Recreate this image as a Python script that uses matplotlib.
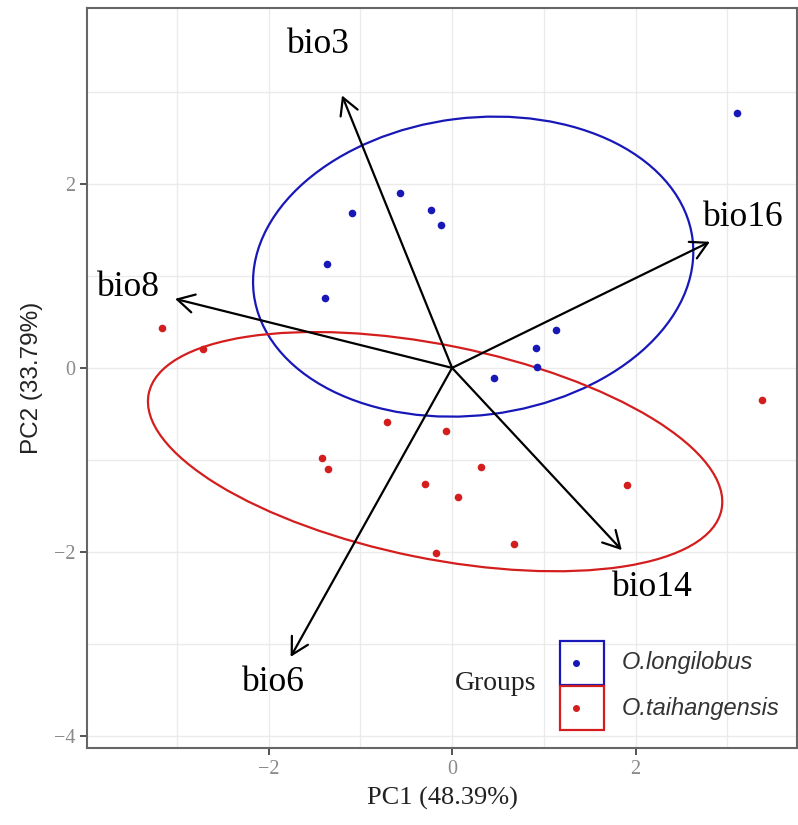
import numpy as np
import matplotlib
matplotlib.use('Agg')
import matplotlib.pyplot as plt
from matplotlib.patches import Ellipse, Rectangle

# PCA scores
long_x = [3.11, -1.09, -1.36, -1.39, -0.57, -0.23, -0.12, 1.13, 0.91, 0.93, 0.46]
long_y = [2.77, 1.68, 1.13, 0.76, 1.90, 1.72, 1.55, 0.41, 0.22, 0.01, -0.11]
taih_x = [-3.16, -2.72, -0.71, -1.42, -1.35, -0.07, 0.32, -0.29, 0.06, 1.91, 0.68, -0.18, 3.38]
taih_y = [0.43, 0.21, -0.59, -0.98, -1.10, -0.69, -1.08, -1.26, -1.40, -1.27, -1.91, -2.01, -0.35]

# loadings (arrows) and label positions
var_names = ['bio3', 'bio8', 'bio16', 'bio14', 'bio6']
var_x = [-1.20, -3.02, 2.81, 1.85, -1.76]
var_y = [2.96, 0.75, 1.37, -1.98, -3.14]
lab_x = [-1.46, -3.53, 3.17, 2.18, -1.95]
lab_y = [3.51, 0.87, 1.63, -2.39, -3.42]

# ellipses: center x, center y, width, height, angle
ell_long = [0.23, 1.10, 4.82, 3.23, 7.1]
ell_taih = [-0.185, -0.91, 6.37, 2.32, -11.4]

blue = '#1818B8'
red = '#D41E1E'

fig = plt.figure(figsize=(7.98, 8.25), dpi=100)
ax = fig.add_axes([87/798, 1-748/825, 710/798, 740/825])
ax.set_xlim(-3.98, 3.76)
ax.set_ylim(-4.13, 3.91)

ax.set_xticks([-2, 0, 2])
ax.set_yticks([-4, -2, 0, 2])
ax.set_xticks([-3, -1, 1, 3], minor=True)
ax.set_yticks([-3, -1, 1, 3], minor=True)
ax.set_xticklabels(['\u22122', '0', '2'])
ax.set_yticklabels(['\u22124', '\u22122', '0', '2'])
ax.grid(True, which='both', color='#ebebeb', lw=1.0)
ax.set_axisbelow(True)
ax.tick_params(which='minor', length=0)
ax.tick_params(which='major', length=5, width=1.3, color='#444444',
               labelcolor='#8a8a8a', labelsize=14.5)
for lbl in ax.get_xticklabels() + ax.get_yticklabels():
    lbl.set_family('Liberation Serif')
for s in ax.spines.values():
    s.set_color('#666666')
    s.set_linewidth(1.5)

for e, c in [(ell_long, blue), (ell_taih, red)]:
    ax.add_patch(Ellipse((e[0], e[1]), e[2], e[3], angle=e[4], fill=False,
                         edgecolor=c, lw=1.6, zorder=2))

ax.scatter(long_x, long_y, s=30, color=blue, zorder=3, linewidths=0)
ax.scatter(taih_x, taih_y, s=30, color=red, zorder=3, linewidths=0)

for name, vx, vy, tx, ty in zip(var_names, var_x, var_y, lab_x, lab_y):
    ax.annotate('', xy=(vx, vy), xytext=(0, 0),
                arrowprops=dict(arrowstyle='->,head_length=0.6,head_width=0.33',
                                mutation_scale=20, color='black', lw=1.6,
                                shrinkA=0, shrinkB=0), zorder=4)
    ax.text(tx, ty, name, family='Liberation Serif', fontsize=25.5,
            ha='center', va='center', color='black', zorder=5)

ax.set_xlabel('PC1 (48.39%)', family='Liberation Serif', fontsize=19,
              color='#222222', labelpad=6)
ax.set_ylabel('PC2 (33.79%)', family='Liberation Sans', fontsize=17.5,
              color='#222222', labelpad=8)

# legend drawn in figure pixels
def px(x, y):
    return x / 798, 1 - y / 825

groups = ['O.longilobus', 'O.taihangensis']
for i, (g, c) in enumerate(zip(groups, [blue, red])):
    top = 641 + i * 45
    x0, y0 = px(560, top + 44)
    fig.add_artist(Rectangle((x0, y0), 44/798, 44/825, transform=fig.transFigure,
                             fill=False, edgecolor=c, lw=1.6))
    fig.add_artist(plt.Line2D([px(576, 0)[0]], [px(0, top + 22)[1]], marker='o',
                              markersize=4, color=c, transform=fig.transFigure))
    fig.text(*px(622, top + 22), g, family='Liberation Sans', style='italic',
             fontsize=17, color='#333333', ha='left', va='center')
fig.text(*px(496, 684), 'Groups', family='Liberation Serif', fontsize=20,
         color='#222222', ha='center', va='center')

fig.savefig('out.png', dpi=100)
